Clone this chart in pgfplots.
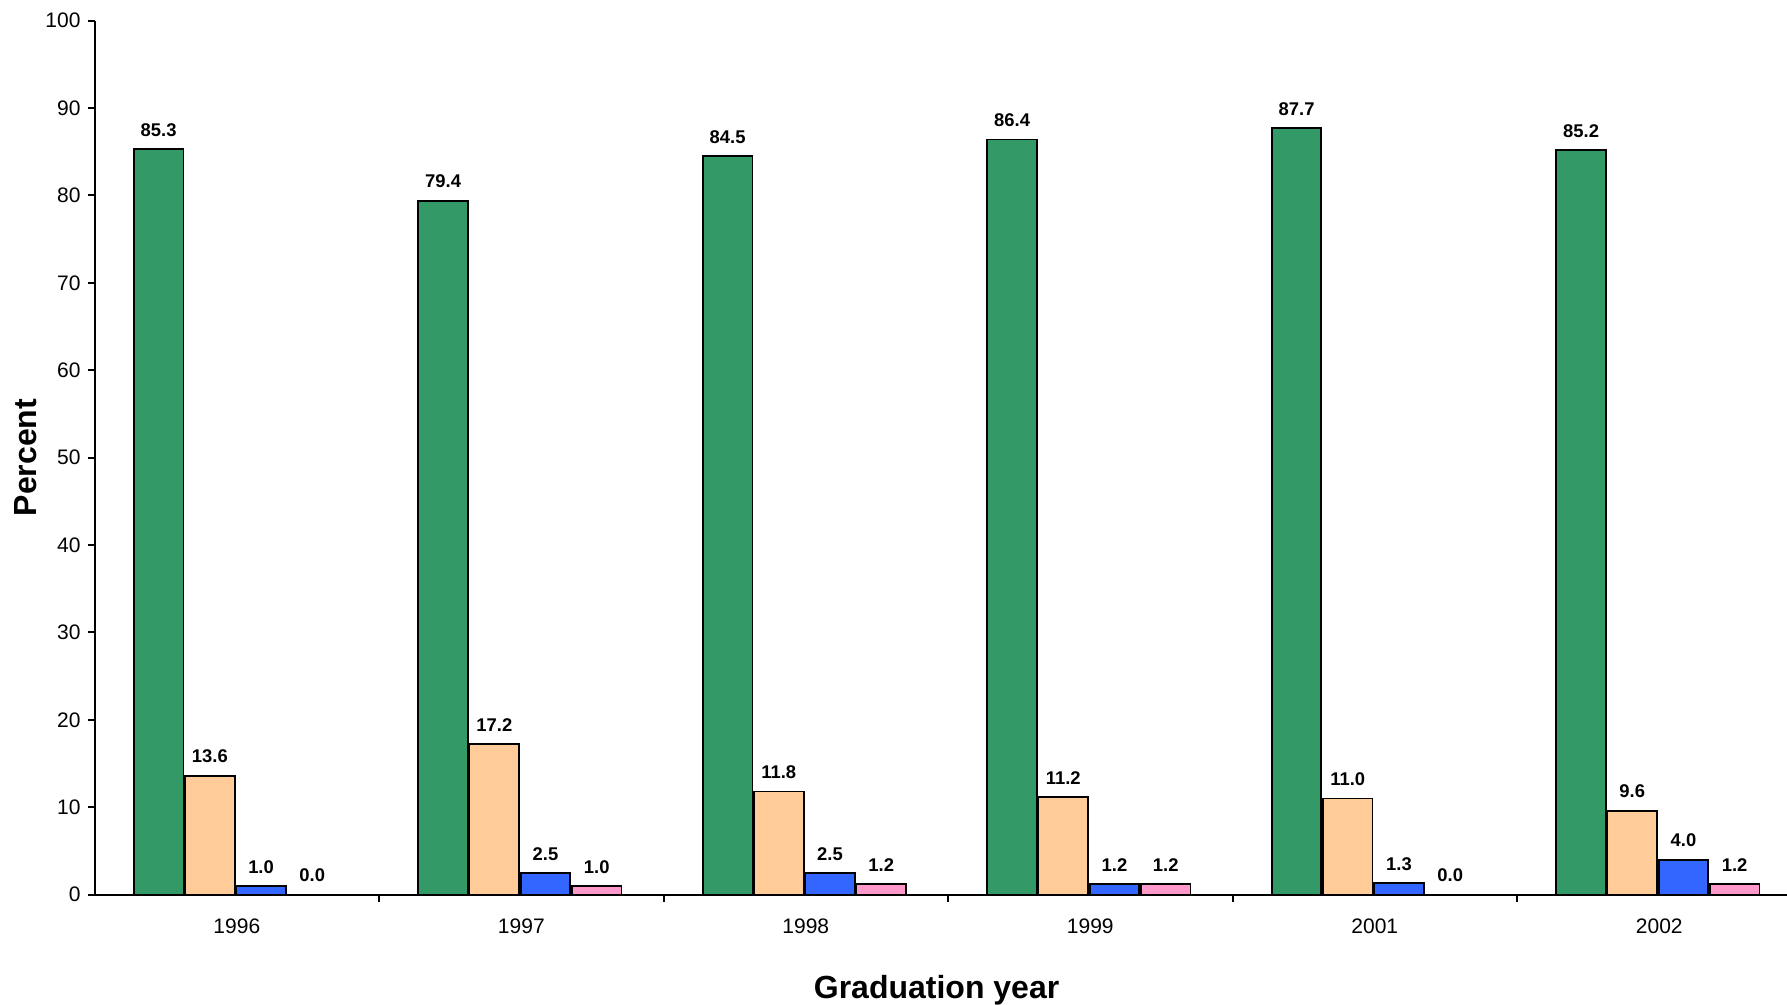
\documentclass[border=0pt]{standalone}
\usepackage{pgfplots}
\pgfplotsset{compat=1.18}
\usepackage{fontspec}
\setmainfont{Liberation Sans}
\definecolor{cgreen}{HTML}{339966}
\definecolor{corange}{HTML}{FFCC99}
\definecolor{cblue}{HTML}{3366FF}
\definecolor{cpink}{HTML}{FF99CC}
\begin{document}
\begin{tikzpicture}
\useasboundingbox (-47.3pt,-55.2pt) rectangle (846.2pt,447.3pt);
\begin{axis}[
 scale only axis, width=846.2pt, height=437pt,
 xmin=-0.5, xmax=5.449, ymin=0, ymax=100,
 axis lines=left, axis line style={-, line width=1pt},
 ytick={0,10,...,100},
 xtick={0.5,1.5,2.5,3.5,4.5}, xticklabels={},
 extra x ticks={0,1,2,3,4,5},
 extra x tick labels={1996,1997,1998,1999,2001,2002},
 extra x tick style={major tick length=0pt, tick label style={yshift=-8.7pt}},
 tick align=outside, major tick length=3.5pt,
 tick style={black, line width=1pt},
 /pgf/number format/assume math mode=true,
 tick label style={font=\fontsize{10.5}{12}\selectfont},
 ybar=0.8pt, bar width=24.8pt,
 every axis plot/.append style={draw=black, line width=0.9pt, xshift=-0.7pt},
 nodes near coords={\pgfmathprintnumber[fixed,fixed zerofill,precision=1]{\pgfplotspointmeta}},
 every node near coord/.append style={font=\bfseries\fontsize{9.2}{11}\selectfont, yshift=2.5pt, black},
 xlabel={\bfseries Graduation year},
 ylabel={\bfseries Percent},
 xlabel style={at={(axis description cs:0.4975,-0.1096)}, anchor=center, font=\fontsize{16}{19}\selectfont},
 ylabel style={at={(axis description cs:-0.0405,0.5)}, anchor=center, rotate=0, font=\fontsize{16}{19}\selectfont},
 clip=false,
]
\addplot[fill=cgreen] coordinates {(0,85.3) (1,79.4) (2,84.5) (3,86.4) (4,87.7) (5,85.2)};
\addplot[fill=corange] coordinates {(0,13.6) (1,17.2) (2,11.8) (3,11.2) (4,11.0) (5,9.6)};
\addplot[fill=cblue] coordinates {(0,1.0) (1,2.5) (2,2.5) (3,1.2) (4,1.3) (5,4.0)};
\addplot[fill=cpink] coordinates {(0,0.0) (1,1.0) (2,1.2) (3,1.2) (4,0.0) (5,1.2)};
\end{axis}
\end{tikzpicture}
\end{document}
